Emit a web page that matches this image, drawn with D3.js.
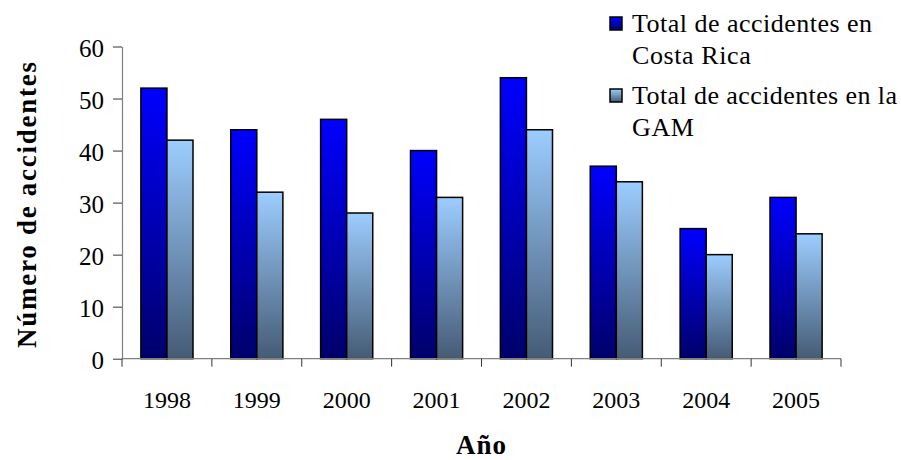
<!DOCTYPE html>
<html><head><meta charset="utf-8">
<script src="https://cdn.jsdelivr.net/npm/d3@7"></script>
<style>body{margin:0;background:#fff}svg{display:block}</style>
</head><body>
<script>
const years = ["1998","1999","2000","2001","2002","2003","2004","2005"];
const costaRica = [52,44,46,40,54,37,25,31];
const gam = [42,32,28,31,44,34,20,24];
const yTicks = [0,10,20,30,40,50,60];

const W=901,H=460;
const svg=d3.select("body").append("svg").attr("width",W).attr("height",H);
const font="'Liberation Serif', 'Times New Roman', serif";

const defs=svg.append("defs");
function grad(id,top,bottom){
  const g=defs.append("linearGradient").attr("id",id).attr("x1",0).attr("y1",0).attr("x2",0).attr("y2",1);
  g.append("stop").attr("offset","0%").attr("stop-color",top);
  g.append("stop").attr("offset","100%").attr("stop-color",bottom);
}
grad("g0","#0000ff","#00006a");
grad("g1","#9ccdff","#455b75");

const x0=122,x1=841,yTop=46.5,yBot=358.7;
const x=d3.scaleBand().domain(years).range([x0,x1]).paddingInner(0.42).paddingOuter(0.21);
const xs=d3.scaleBand().domain([0,1]).range([0,x.bandwidth()]);
const y=d3.scaleLinear().domain([0,60]).range([yBot,yTop]);

// bars
const data=years.map((yr,i)=>({yr,vals:[costaRica[i],gam[i]]}));
const gBars=svg.append("g");
data.forEach(d=>{
  d.vals.forEach((v,k)=>{
    gBars.append("rect")
      .attr("x",x(d.yr)+xs(k)).attr("y",y(v))
      .attr("width",xs.bandwidth()).attr("height",yBot-y(v))
      .attr("fill",`url(#g${k})`).attr("stroke","#000").attr("stroke-width",1.5);
  });
});

// y axis
const ya=svg.append("g").attr("transform",`translate(${x0},0)`)
  .call(d3.axisLeft(y).tickValues(yTicks).tickSize(9).tickSizeOuter(0).tickPadding(9));
ya.attr("font-family",null);
ya.select(".domain").attr("stroke","#808080").attr("stroke-width",1.2);
ya.selectAll(".tick line").attr("stroke","#333");
ya.selectAll("text").style("font-family",font).style("font-size","25px").attr("fill","#000").attr("dy","0.4em");

// x axis
const xa=svg.append("g").attr("transform",`translate(0,${yBot})`)
  .call(d3.axisBottom(x).tickSize(0));
xa.attr("font-family",null);
xa.select(".domain").attr("stroke","#808080").attr("stroke-width",1.2).attr("d",`M${x0},0H${x1}`);
xa.selectAll("text").style("font-family",font).style("font-size","24px").attr("fill","#000").attr("y",49).attr("dy",0);
const bounds=d3.range(years.length+1).map(i=>x0+(x1-x0)*i/years.length);
xa.selectAll(".bt").data(bounds).enter().append("line").attr("class","bt")
  .attr("x1",d=>d).attr("x2",d=>d).attr("y1",0).attr("y2",8).attr("stroke","#333");

// axis titles
svg.append("text").attr("transform","translate(36,205) rotate(-90)")
  .attr("text-anchor","middle").style("font-family",font).style("font-size","27px").attr("font-weight","bold")
  .attr("textLength",286).attr("lengthAdjust","spacing").text("Número de accidentes");
svg.append("text").attr("x",481).attr("y",454).attr("text-anchor","middle")
  .style("font-family",font).style("font-size","27px").attr("font-weight","bold")
  .attr("textLength",50).attr("lengthAdjust","spacing").text("Año");

// legend
const leg=[
  {lines:["Total de accidentes en","Costa Rica"],len:[240,null],y:32},
  {lines:["Total de accidentes en la","GAM"],len:[265,null],y:104}
];
leg.forEach((l,k)=>{
  svg.append("rect").attr("x",610).attr("y",l.y-15).attr("width",12).attr("height",13)
    .attr("fill",`url(#g${k})`).attr("stroke","#000").attr("stroke-width",1.5);
  l.lines.forEach((s,j)=>{
    const t=svg.append("text").style("font-family",font).style("font-size","26px").attr("fill","#000")
      .attr("x",632).attr("y",l.y+j*32).text(s);
    if(l.len[j]) t.attr("textLength",l.len[j]).attr("lengthAdjust","spacing");
    else t.style("letter-spacing","0.6px");
  });
});
</script>
</body></html>
